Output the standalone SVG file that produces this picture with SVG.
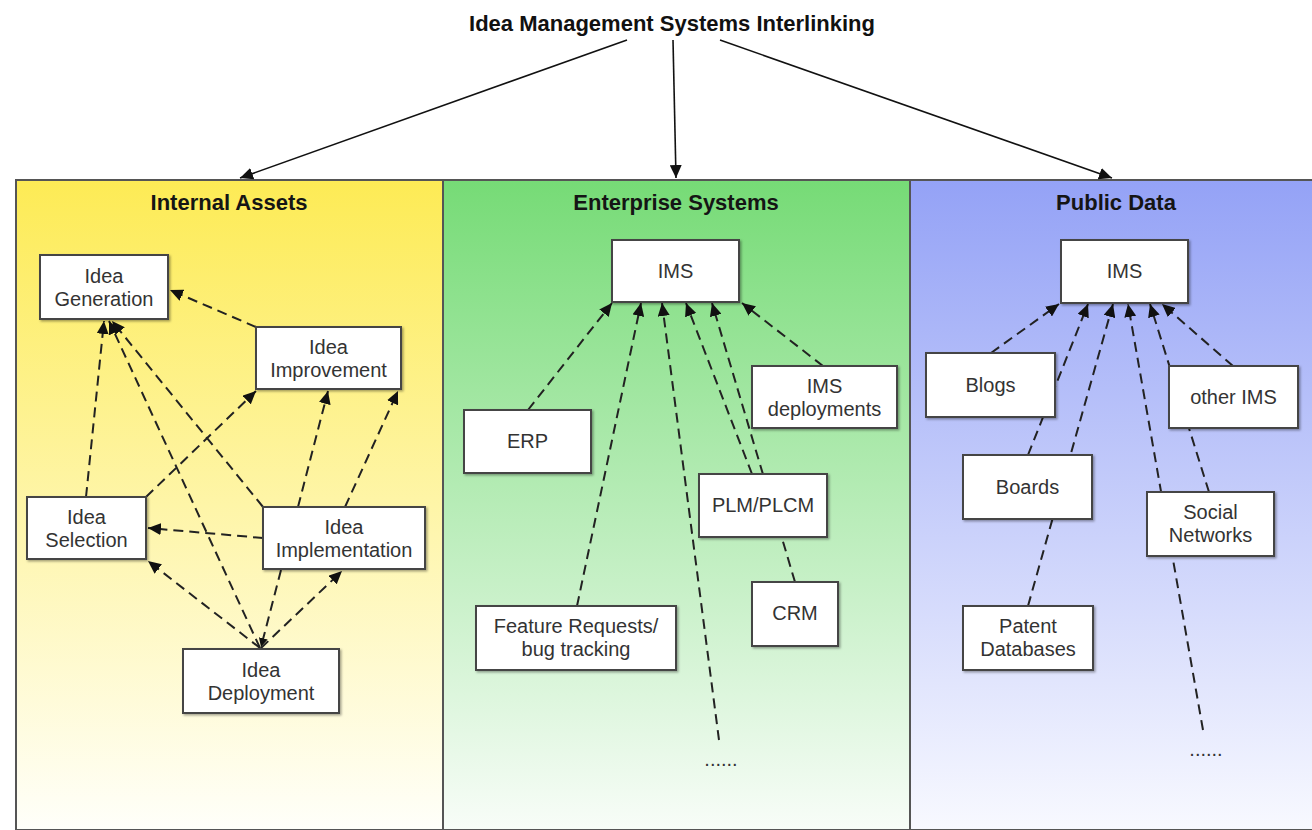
<svg xmlns="http://www.w3.org/2000/svg" width="1312" height="830" viewBox="0 0 1312 830">
<style>
  .title { font-family: "Liberation Sans", Arial, sans-serif; font-weight: bold; font-size: 22px; fill: #111; text-anchor: middle; }
  .ptitle { font-family: "Liberation Sans", Arial, sans-serif; font-weight: bold; font-size: 22px; fill: #151515; text-anchor: middle; }
  .lbl { font-family: "Liberation Sans", Arial, sans-serif; font-size: 20px; fill: #333; text-anchor: middle; }
  .box { fill: #fff; stroke: #444; stroke-width: 2; filter: url(#sh); }
  .panel { stroke: #555; stroke-width: 2; }
  .dash { fill: none; stroke: #222; stroke-width: 2; stroke-dasharray: 10 6; marker-end: url(#ah); }
  .dashn { fill: none; stroke: #222; stroke-width: 2; stroke-dasharray: 10 6; }
  .solid { fill: none; stroke: #111; stroke-width: 1.6; marker-end: url(#ah); }
</style>
<defs>
  <marker id="ah" markerUnits="userSpaceOnUse" markerWidth="14" markerHeight="12" refX="13" refY="6" orient="auto">
    <path d="M0,0 L13,6 L0,12 z" fill="#111"/>
  </marker>
  <marker id="ahs" markerUnits="userSpaceOnUse" markerWidth="10" markerHeight="9" refX="9" refY="4.5" orient="auto">
    <path d="M0,0 L9,4.5 L0,9 z" fill="#111"/>
  </marker>
  <linearGradient id="gy" x1="0" y1="0" x2="0" y2="1">
    <stop offset="0" stop-color="#fdeb55"/>
    <stop offset="1" stop-color="#fffffa"/>
  </linearGradient>
  <linearGradient id="gg" x1="0" y1="0" x2="0" y2="1">
    <stop offset="0" stop-color="#76db76"/>
    <stop offset="1" stop-color="#f8fdf8"/>
  </linearGradient>
  <linearGradient id="gb" x1="0" y1="0" x2="0" y2="1">
    <stop offset="0" stop-color="#94a2f6"/>
    <stop offset="1" stop-color="#f8f9ff"/>
  </linearGradient>
  <filter id="sh" x="-10%" y="-10%" width="130%" height="130%">
    <feDropShadow dx="1.5" dy="1.5" stdDeviation="1" flood-color="#000" flood-opacity="0.35"/>
  </filter>
</defs>
<rect x="0" y="0" width="1312" height="830" fill="#fff"/>

<g id="title">
  <text class="title" x="672" y="31">Idea Management Systems Interlinking</text>
</g>

<g id="panel-internal">
  <rect class="panel" x="16" y="180" width="427" height="650" fill="url(#gy)"/>
  <text class="ptitle" x="229" y="210">Internal Assets</text>
</g>
<g id="panel-enterprise">
  <rect class="panel" x="443" y="180" width="467" height="650" fill="url(#gg)"/>
  <text class="ptitle" x="676" y="210">Enterprise Systems</text>
</g>
<g id="panel-public">
  <rect class="panel" x="910" y="180" width="410" height="650" fill="url(#gb)"/>
  <text class="ptitle" x="1116" y="210">Public Data</text>
</g>

<g id="connectors">
  <line class="solid" x1="627" y1="40" x2="240" y2="178"/>
  <line class="solid" x1="673" y1="40" x2="676" y2="178"/>
  <line class="solid" x1="720" y1="40" x2="1112" y2="178"/>

  <line class="dash" x1="256" y1="327" x2="170" y2="290"/>
  <line class="dash" x1="86" y1="497" x2="104" y2="321"/>
  <line class="dash" x1="260" y1="648" x2="109" y2="321"/>
  <line class="dash" x1="263" y1="507" x2="112" y2="321"/>
  <line class="dash" x1="146" y1="497" x2="256" y2="391"/>
  <line class="dash" x1="298" y1="507" x2="328" y2="391"/>
  <line class="dash" x1="345" y1="507" x2="398" y2="391"/>
  <line class="dash" x1="263" y1="538" x2="148" y2="528"/>
  <line class="dash" x1="260" y1="648" x2="148" y2="561"/>
  <line class="dash" x1="261" y1="648" x2="342" y2="571"/>
  <line class="dashn" x1="281" y1="570" x2="261" y2="647" marker-end="url(#ahs)"/>

  <line class="dash" x1="528" y1="410" x2="612" y2="303"/>
  <line class="dash" x1="577" y1="606" x2="641" y2="303"/>
  <line class="dash" x1="719" y1="740" x2="662" y2="303"/>
  <line class="dash" x1="752" y1="474" x2="686" y2="303"/>
  <line class="dash" x1="795" y1="582" x2="712" y2="303"/>
  <line class="dash" x1="823" y1="366" x2="742" y2="303"/>

  <line class="dash" x1="991" y1="353" x2="1059" y2="304"/>
  <line class="dash" x1="1028" y1="455" x2="1088" y2="304"/>
  <line class="dash" x1="1028" y1="606" x2="1113" y2="304"/>
  <line class="dash" x1="1203" y1="730" x2="1128" y2="304"/>
  <line class="dash" x1="1209" y1="492" x2="1150" y2="304"/>
  <line class="dash" x1="1233" y1="366" x2="1162" y2="304"/>
</g>

<g id="idea-generation">
  <rect class="box" x="40" y="255" width="128" height="64"/>
  <text class="lbl" x="104" y="283">Idea</text>
  <text class="lbl" x="104" y="306">Generation</text>
</g>
<g id="idea-improvement">
  <rect class="box" x="256" y="327" width="145" height="62"/>
  <text class="lbl" x="328.5" y="354">Idea</text>
  <text class="lbl" x="328.5" y="377">Improvement</text>
</g>
<g id="idea-selection">
  <rect class="box" x="27" y="497" width="119" height="62"/>
  <text class="lbl" x="86.5" y="524">Idea</text>
  <text class="lbl" x="86.5" y="547">Selection</text>
</g>
<g id="idea-implementation">
  <rect class="box" x="263" y="507" width="162" height="62"/>
  <text class="lbl" x="344" y="534">Idea</text>
  <text class="lbl" x="344" y="557">Implementation</text>
</g>
<g id="idea-deployment">
  <rect class="box" x="183" y="649" width="156" height="64"/>
  <text class="lbl" x="261" y="677">Idea</text>
  <text class="lbl" x="261" y="700">Deployment</text>
</g>

<g id="ims-enterprise">
  <rect class="box" x="612" y="240" width="127" height="62"/>
  <text class="lbl" x="675.5" y="278">IMS</text>
</g>
<g id="erp">
  <rect class="box" x="464" y="410" width="127" height="63"/>
  <text class="lbl" x="527.5" y="448">ERP</text>
</g>
<g id="ims-deployments">
  <rect class="box" x="752" y="366" width="145" height="62"/>
  <text class="lbl" x="824.5" y="393">IMS</text>
  <text class="lbl" x="824.5" y="416">deployments</text>
</g>
<g id="plm">
  <rect class="box" x="699" y="474" width="128" height="63"/>
  <text class="lbl" x="763" y="512">PLM/PLCM</text>
</g>
<g id="crm">
  <rect class="box" x="752" y="582" width="86" height="64"/>
  <text class="lbl" x="795" y="620">CRM</text>
</g>
<g id="feature-requests">
  <rect class="box" x="476" y="606" width="200" height="64"/>
  <text class="lbl" x="576" y="633">Feature Requests/</text>
  <text class="lbl" x="576" y="656">bug tracking</text>
</g>
<g id="more-enterprise">
  <text class="lbl" x="721" y="766">......</text>
</g>

<g id="ims-public">
  <rect class="box" x="1061" y="240" width="127" height="63"/>
  <text class="lbl" x="1124.5" y="278">IMS</text>
</g>
<g id="blogs">
  <rect class="box" x="926" y="353" width="129" height="64"/>
  <text class="lbl" x="990.5" y="392">Blogs</text>
</g>
<g id="other-ims">
  <rect class="box" x="1169" y="366" width="129" height="62"/>
  <text class="lbl" x="1233.5" y="404">other IMS</text>
</g>
<g id="boards">
  <rect class="box" x="963" y="455" width="129" height="64"/>
  <text class="lbl" x="1027.5" y="494">Boards</text>
</g>
<g id="social-networks">
  <rect class="box" x="1147" y="492" width="127" height="64"/>
  <text class="lbl" x="1210.5" y="519">Social</text>
  <text class="lbl" x="1210.5" y="542">Networks</text>
</g>
<g id="patent-databases">
  <rect class="box" x="963" y="606" width="130" height="64"/>
  <text class="lbl" x="1028" y="633">Patent</text>
  <text class="lbl" x="1028" y="656">Databases</text>
</g>
<g id="more-public">
  <text class="lbl" x="1206" y="756">......</text>
</g>
</svg>
